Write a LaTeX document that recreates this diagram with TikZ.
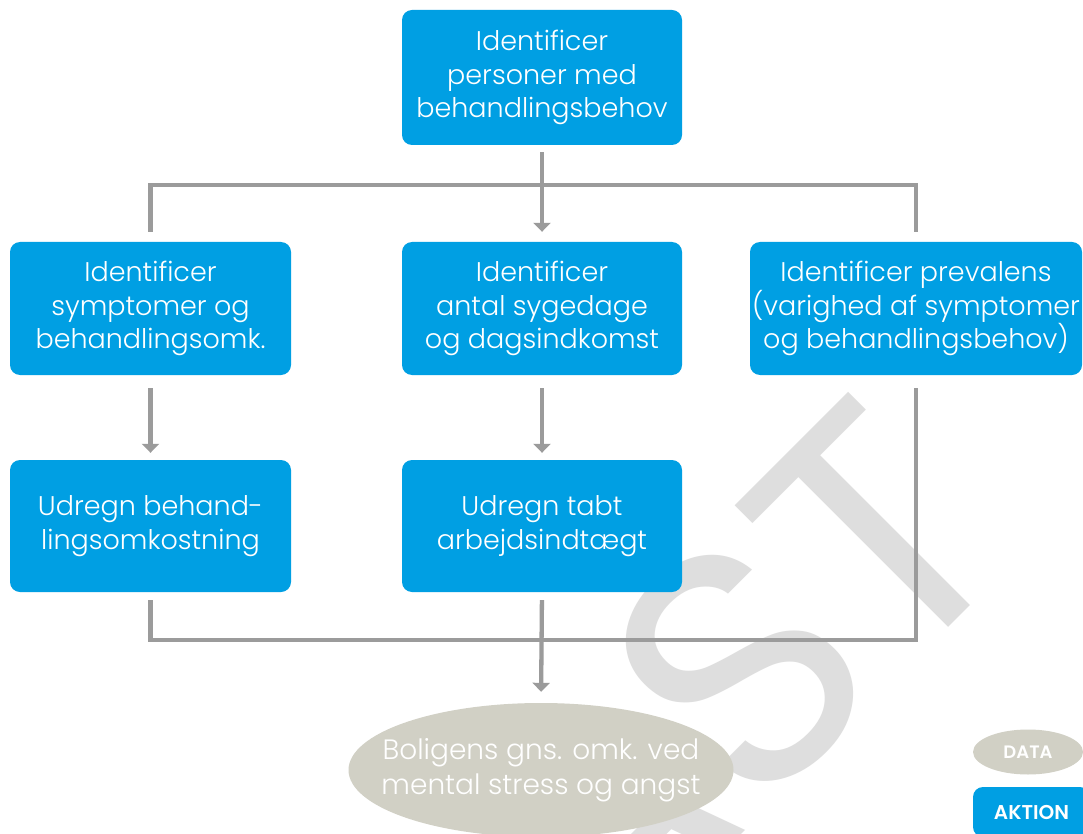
\documentclass[tikz,border=0pt]{standalone}
\usepackage{fontspec}
\setmainfont{Poppins Light}[BoldFont={Poppins SemiBold}]
\newfontfamily\wmfont{Poppins}
\usetikzlibrary{shapes.geometric,arrows.meta,calc}
\definecolor{boxblue}{HTML}{009FE3}
\definecolor{datagray}{HTML}{D1D0C5}
\definecolor{linegray}{HTML}{9B9B9B}
\definecolor{wmgray}{HTML}{DEDEDE}
\begin{document}
\begin{tikzpicture}[x=1pt,y=-1pt,
  box/.style={fill=boxblue, rounded corners=10pt, text=white, align=center,
    font=\fontsize{27}{33.5}\selectfont, inner sep=0pt},
  dataell/.style={ellipse, fill=datagray, text=white, align=center, inner sep=0pt},
  ln/.style={draw=linegray, line width=4.3pt},
  arr/.style={ln, -{Triangle[width=17pt,length=9pt]}},
  wm/.style={text=wmgray, font=\wmfont\fontsize{340}{340}\selectfont, inner sep=0pt}]
\clip (0,0) rectangle (1083,834);
\fill[white] (0,0) rectangle (1083,834);
% watermark
\node[wm, rotate=45, anchor=base] (wmref) at (889,687) {\phantom{ST}};
\node[wm, rotate=45, anchor=base east] (wm) at (wmref.base east) {AST};
% boxes
\node[box, minimum width=280pt, minimum height=135pt] (t) at (542,77.5) {Identificer\\personer med\\behandlingsbehov};
\node[box, minimum width=281pt, minimum height=133pt] (a) at (150.5,308.5) {Identificer\\symptomer og\\behandlingsomk.};
\node[box, minimum width=280pt, minimum height=133pt] (b) at (542,308.5) {Identificer\\antal sygedage\\og dagsindkomst};
\node[box, minimum width=332pt, minimum height=133pt] (c) at (916,308.5) {Identificer prevalens\\(varighed af symptomer\\og behandlingsbehov)};
\node[box, minimum width=281pt, minimum height=132pt] (d) at (150.5,526) {Udregn behand-\\lingsomkostning};
\node[box, minimum width=280pt, minimum height=132pt] (e) at (542,526) {Udregn tabt\\arbejdsindtægt};
\node[dataell, inner xsep=-40pt, minimum width=385pt, minimum height=134pt, font=\fontsize{28}{35}\selectfont] (f) at (541,770) {Boligens gns. omk. ved\\mental stress og angst};
% legend
\node[dataell, minimum width=110pt, minimum height=45pt, font=\bfseries\fontsize{18}{18}\selectfont] (g) at (1028,752) {DATA};
\node[box, minimum width=117pt, minimum height=50pt, font=\bfseries\fontsize{20}{20}\selectfont] (h) at (1031.5,812) {AKTION};
% connectors
\coordinate (bus1) at (541,185);
\coordinate (bus2) at (541,640);
\draw[arr, shorten <=7pt, shorten >=10pt] (t.south) -- (b.north);
\draw[ln] ([yshift=10pt]a.north) |- (bus1) -| ([yshift=10pt]c.north);
\draw[arr, shorten <=13pt, shorten >=7pt] (a.south) -- (d.north);
\draw[arr, shorten <=13pt, shorten >=7pt] (b.south) -- (e.north);
\draw[ln] ([yshift=-8pt]d.south) |- (bus2) -| ([yshift=-13pt]c.south);
\draw[arr, shorten <=8pt, shorten >=11pt] (e.south) -- (f.north);
\end{tikzpicture}
\end{document}
